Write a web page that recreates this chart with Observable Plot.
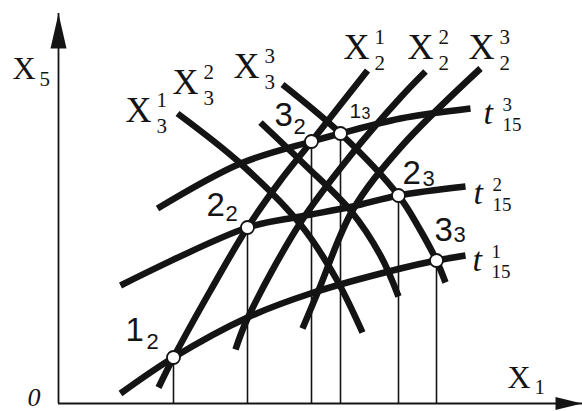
<!DOCTYPE html>
<html>
<head>
<meta charset="utf-8">
<script src="https://cdn.jsdelivr.net/npm/d3@7"></script>
<script src="https://cdn.jsdelivr.net/npm/@observablehq/plot@0.6"></script>
<style>
  html, body { margin: 0; padding: 0; background: #fff; }
  #chart svg { display: block; }
</style>
</head>
<body>
<div id="chart"></div>
<script>
// Nomogram in the X1–X5 plane: x = X1, y = X5 (arbitrary units).

// Ascending curves X2^1, X2^2, X2^3
const x2Curve1 = [[2.00,0.32],[2.30,0.92],[3.04,2.26],[3.78,3.52],[4.44,4.46],[5.06,5.24],[6.18,6.66]];
const x2Curve2 = [[3.54,1.08],[3.78,1.70],[4.84,3.62],[5.84,4.96],[6.84,6.12],[7.34,6.64]];
const x2Curve3 = [[4.88,1.50],[5.20,2.26],[5.88,3.86],[6.84,5.12],[8.44,6.70]];

// Descending curves X3^1, X3^2, X3^3
const x3Curve1 = [[2.38,5.80],[3.64,4.80],[4.84,3.58],[5.54,2.52],[6.08,1.42]];
const x3Curve2 = [[4.04,5.62],[4.94,4.76],[5.84,3.86],[6.44,2.96],[6.80,2.14]];
const x3Curve3 = [[4.48,6.38],[5.64,5.40],[6.80,4.16],[7.24,3.46],[7.56,2.86],[7.74,2.42]];

// Level curves t15^1, t15^2, t15^3
const tCurve1 = [[1.24,0.20],[2.30,0.92],[3.78,1.72],[5.04,2.20],[6.84,2.70],[7.56,2.86],[8.14,2.96]];
const tCurve2 = [[1.24,2.36],[3.78,3.52],[4.84,3.74],[5.88,3.94],[6.80,4.16],[8.14,4.34]];
const tCurve3 = [[1.98,3.90],[3.64,4.80],[5.06,5.24],[5.64,5.40],[6.84,5.70],[8.24,5.90]];

// Marked intersection points
const pointMain = ["1", "2", "3", "1", "2", "3"];
const pointSub  = ["2", "2", "2", "3", "3", "3"];
const pointX    = [2.30, 3.78, 5.06, 5.64, 6.80, 7.56];
const pointY    = [0.92, 3.52, 5.24, 5.40, 4.16, 2.86];

// Curve labels: base letter, superscript, subscript
const curveBase = ["X", "X", "X", "X", "X", "X", "t", "t", "t"];
const curveSup  = ["1", "2", "3", "1", "2", "3", "1", "2", "3"];
const curveSub  = ["2", "2", "2", "3", "3", "3", "15", "15", "15"];

const xMax = 10.48, yMax = 7.8;
const ink = "#141414";
const serif = "Liberation Serif, Times New Roman, serif";
const sans = "Liberation Sans, Arial, sans-serif";

const curveSets = [x2Curve1, x2Curve2, x2Curve3, x3Curve1, x3Curve2, x3Curve3, tCurve1, tCurve2, tCurve3];
const curveRows = curveSets.flatMap((c, k) => c.map(([x, y]) => ({curve: k, x, y})));
// X2 and t15 labels sit at the upper/right end of their curve, X3 labels at the upper-left start
const curveAnchors = curveSets.map((c, k) => (k >= 3 && k < 6) ? c[0] : c[c.length - 1]);

const points = pointX.map((x, i) => ({x, y: pointY[i], main: pointMain[i], sub: pointSub[i]}));

// label layout (pixel offsets from the anchor): base x, base baseline
const curveLabelOffset = [
  [-24, -12], [-18, -13], [-12, -10],
  [-52, 8], [-88, -29], [-49, -7],
  [7, 15], [8, 17], [13, 15]
];
// point label layout: main x, main baseline, sub x, sub baseline
const pointLabelOffset = [
  [-48, -17, -27, -9],
  [-41, -12, -22, -7],
  [-37, -16, -18, -8],
  [9, -16, 21, -15],
  [4, -12, 24, -10],
  [-2, -20, 17, -19]
];

function label(d, text, opts) {
  return Plot.text([d], {
    x: (p) => p[0], y: (p) => p[1], text: () => text,
    textAnchor: "start", lineAnchor: "bottom", fill: ink, ...opts
  });
}

const labelMarks = [];
curveAnchors.forEach((a, k) => {
  const [bx, by] = curveLabelOffset[k];
  const isT = k >= 6;
  const baseSize = isT ? 34 : 36;
  const scriptSize = isT ? 19 : 21;
  const scriptDx = isT ? 19 : 31;
  const supDy = isT ? -13 : -15;
  const subDy = isT ? 7 : 11;
  labelMarks.push(label(a, curveBase[k], {dx: bx, dy: by, fontFamily: serif, fontSize: baseSize, fontStyle: isT ? "italic" : "normal"}));
  labelMarks.push(label(a, curveSup[k], {dx: bx + scriptDx, dy: by + supDy, fontFamily: serif, fontSize: scriptSize}));
  labelMarks.push(label(a, curveSub[k], {dx: bx + scriptDx, dy: by + subDy, fontFamily: serif, fontSize: scriptSize}));
});
points.forEach((p, i) => {
  const [mx, my, sx, sy] = pointLabelOffset[i];
  const small = i === 3;
  labelMarks.push(label([p.x, p.y], p.main, {dx: mx, dy: my, fontFamily: sans, fontSize: small ? 21 : 33}));
  labelMarks.push(label([p.x, p.y], p.sub, {dx: sx, dy: sy, fontFamily: sans, fontSize: small ? 16 : 22}));
});

// Filled arrowheads for the axes
const arrowUp = {draw(ctx) { ctx.moveTo(0, 0); ctx.lineTo(-8, 35); ctx.lineTo(8, 35); ctx.closePath(); }};
const arrowRight = {draw(ctx) { ctx.moveTo(0, 0); ctx.lineTo(-27, -6.5); ctx.lineTo(-27, 6.5); ctx.closePath(); }};

const chart = Plot.plot({
  width: 582,
  height: 411,
  marginLeft: 58,
  marginRight: 0,
  marginTop: 13,
  marginBottom: 8,
  style: {background: "#fff"},
  x: {domain: [0, xMax], axis: null},
  y: {domain: [0, yMax], axis: null},
  marks: [
    // drop lines from the marked points to the X1 axis
    Plot.ruleX(points, {x: "x", y1: 0, y2: "y", stroke: ink, strokeWidth: 1.6}),
    // axes
    Plot.ruleX([0], {y1: 0, y2: yMax, stroke: ink, strokeWidth: 1.8}),
    Plot.ruleY([0], {x1: 0, x2: xMax, stroke: ink, strokeWidth: 1.8}),
    Plot.dot([[0, yMax]], {x: (d) => d[0], y: (d) => d[1], symbol: arrowUp, fill: ink, stroke: "none"}),
    Plot.dot([[xMax, 0]], {x: (d) => d[0], y: (d) => d[1], symbol: arrowRight, fill: ink, stroke: "none"}),
    // curve families
    Plot.line(curveRows, {x: "x", y: "y", z: "curve", curve: "catmull-rom", stroke: ink, strokeWidth: 6.5, strokeLinecap: "butt"}),
    // marked points
    Plot.dot(points, {x: "x", y: "y", r: 6.5, fill: "#fff", stroke: ink, strokeWidth: 1.8}),
    // axis titles
    Plot.text(["X"], {frameAnchor: "top-left", dx: -46, dy: 65, textAnchor: "start", lineAnchor: "bottom", fontFamily: serif, fontSize: 32, fill: ink}),
    Plot.text(["5"], {frameAnchor: "top-left", dx: -19, dy: 72, textAnchor: "start", lineAnchor: "bottom", fontFamily: serif, fontSize: 21, fill: ink}),
    Plot.text(["X"], {frameAnchor: "bottom-right", dx: -75, dy: -16, textAnchor: "start", lineAnchor: "bottom", fontFamily: serif, fontSize: 32, fill: ink}),
    Plot.text(["1"], {frameAnchor: "bottom-right", dx: -48, dy: -10, textAnchor: "start", lineAnchor: "bottom", fontFamily: serif, fontSize: 21, fill: ink}),
    Plot.text(["0"], {frameAnchor: "bottom-left", dx: -31, dy: 2, textAnchor: "start", lineAnchor: "bottom", fontFamily: serif, fontStyle: "italic", fontSize: 26, fill: ink}),
    ...labelMarks
  ]
});

document.getElementById("chart").append(chart);
</script>
</body>
</html>
